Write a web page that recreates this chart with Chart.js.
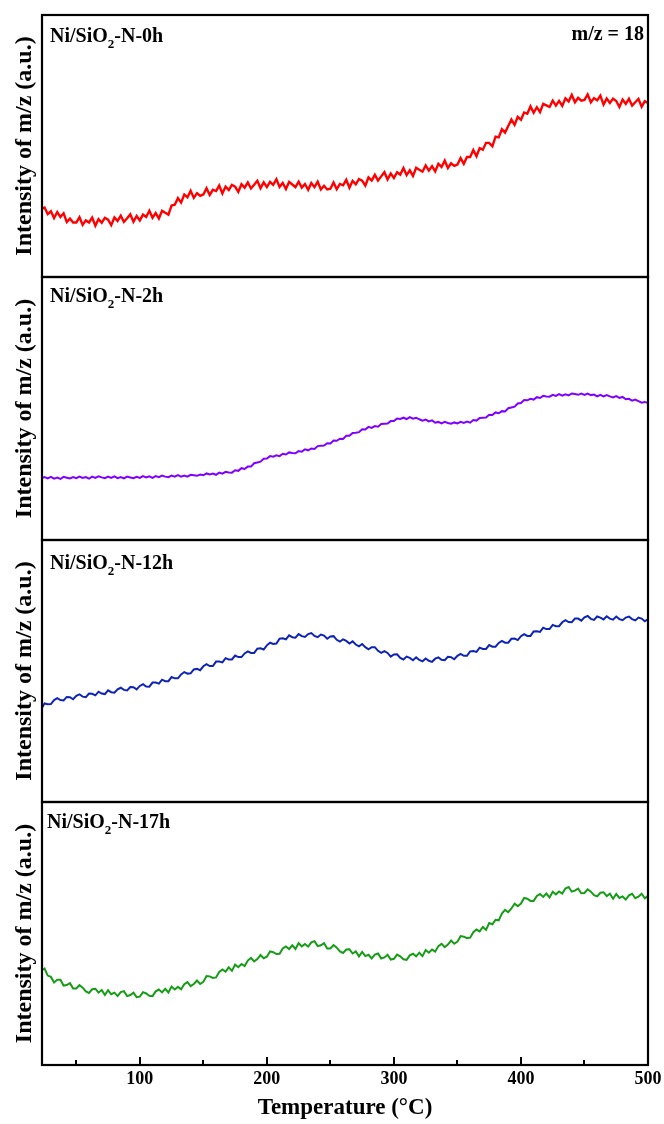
<!DOCTYPE html>
<html>
<head>
<meta charset="utf-8">
<script src="https://cdn.jsdelivr.net/npm/chart.js@4.4.1/dist/chart.umd.min.js"></script>
<style>
  html, body { margin: 0; padding: 0; background: #fff; }
  #wrap { position: relative; width: 664px; height: 1124px; overflow: hidden; background: #fff; }
  #wrap canvas { position: absolute; left: 0; }
</style>
</head>
<body>
<div id="wrap"></div>
<script>
// Temperature (°C) of each recorded sample
const temperatures = [23,
  25,27.5,30,32.5,35,37.5,40,42.5,45,47.5,
  50,52.5,55,57.5,60,62.5,65,67.5,70,72.5,
  75,77.5,80,82.5,85,87.5,90,92.5,95,97.5,
  100,102.5,105,107.5,110,112.5,115,117.5,120,122.5,
  125,127.5,130,132.5,135,137.5,140,142.5,145,147.5,
  150,152.5,155,157.5,160,162.5,165,167.5,170,172.5,
  175,177.5,180,182.5,185,187.5,190,192.5,195,197.5,
  200,202.5,205,207.5,210,212.5,215,217.5,220,222.5,
  225,227.5,230,232.5,235,237.5,240,242.5,245,247.5,
  250,252.5,255,257.5,260,262.5,265,267.5,270,272.5,
  275,277.5,280,282.5,285,287.5,290,292.5,295,297.5,
  300,302.5,305,307.5,310,312.5,315,317.5,320,322.5,
  325,327.5,330,332.5,335,337.5,340,342.5,345,347.5,
  350,352.5,355,357.5,360,362.5,365,367.5,370,372.5,
  375,377.5,380,382.5,385,387.5,390,392.5,395,397.5,
  400,402.5,405,407.5,410,412.5,415,417.5,420,422.5,
  425,427.5,430,432.5,435,437.5,440,442.5,445,447.5,
  450,452.5,455,457.5,460,462.5,465,467.5,470,472.5,
  475,477.5,480,482.5,485,487.5,490,492.5,495,497.5,
  500];

// m/z = 18 signal (a.u.) for each nitridation time
const intensity0h = [26.1,
  26.5,24.0,25.1,22.5,24.8,22.9,24.3,21.0,22.3,20.8,
  20.8,22.8,19.9,21.6,20.8,22.7,19.6,22.1,20.7,22.6,
  21.9,19.8,22.7,21.4,23.4,21.0,22.4,23.9,21.1,23.3,
  21.6,23.8,22.9,25.3,22.6,24.4,22.3,25.3,24.5,23.8,
  27.3,27.6,30.1,28.4,31.5,30.4,32.9,30.2,32.0,31.0,
  31.5,33.9,31.3,33.3,32.8,34.9,31.9,34.5,33.2,35.2,
  34.5,32.5,35.4,34.1,36.1,33.8,35.2,36.7,33.9,36.1,
  34.3,36.3,35.2,37.3,34.4,35.9,33.6,36.3,35.3,34.3,
  36.4,34.1,35.5,33.3,35.9,34.3,36.4,33.4,34.8,33.4,
  33.7,36.1,33.5,35.5,35.0,37.1,34.1,36.7,35.4,37.4,
  36.8,34.9,38.0,36.8,39.0,36.8,38.4,40.0,37.2,39.5,
  37.8,40.0,39.1,41.6,38.9,40.7,38.6,41.7,40.9,40.2,
  42.6,40.6,42.3,40.3,43.2,42.0,44.4,41.6,43.4,42.4,
  42.9,45.4,43.2,45.8,45.8,48.5,46.1,49.2,48.6,51.2,
  51.2,49.9,53.6,53.3,56.4,55.1,57.6,60.1,58.1,61.1,
  60.0,62.8,62.3,65.1,62.7,64.8,62.9,66.1,65.5,64.9,
  67.3,65.4,67.2,65.3,68.2,67.0,69.5,66.7,68.4,67.3,
  67.6,69.7,66.7,68.3,67.4,69.2,65.8,68.1,66.4,68.1,
  67.2,64.9,67.7,66.1,68.0,65.4,66.7,68.0,65.0,67.1,
  66.4];

const intensity2h = [23.6,
  23.9,23.4,24.0,23.3,23.7,23.2,24.0,23.7,23.4,23.9,
  23.5,24.1,23.6,23.9,23.3,24.1,23.6,24.2,23.8,23.5,
  24.1,23.6,24.2,23.5,23.9,23.4,24.1,23.8,23.5,24.0,
  23.6,24.3,23.8,24.2,23.6,24.3,23.9,24.5,24.1,23.9,
  24.5,24.1,24.7,24.1,24.5,24.1,24.8,24.6,24.4,24.9,
  24.6,25.3,24.9,25.3,24.8,25.6,25.2,25.9,25.7,25.6,
  26.5,26.3,27.3,27.0,27.9,27.9,29.2,29.5,29.8,30.9,
  31.0,31.9,31.7,32.2,31.9,32.8,32.5,33.3,33.1,33.0,
  33.8,33.6,34.5,34.1,34.8,34.6,35.7,35.8,35.9,36.8,
  36.7,37.8,37.7,38.5,38.4,39.6,39.6,40.7,40.8,41.0,
  42.1,42.0,43.0,42.6,43.3,43.1,44.1,44.2,44.3,45.2,
  45.2,46.2,46.0,46.5,46.0,46.7,46.1,46.5,45.9,45.4,
  45.8,45.1,45.5,44.6,44.9,44.3,44.9,44.5,44.2,44.7,
  44.3,44.9,44.5,45.0,44.6,45.6,45.4,46.4,46.5,46.6,
  47.6,47.5,48.5,48.2,49.0,48.9,50.1,50.4,50.7,51.9,
  52.1,53.2,53.1,53.7,53.4,54.3,54.0,54.8,54.6,54.5,
  55.2,54.8,55.5,54.9,55.4,55.0,55.7,55.5,55.2,55.7,
  55.2,55.7,55.1,55.3,54.6,55.2,54.6,55.1,54.6,54.2,
  54.7,54.0,54.4,53.5,53.7,53.0,53.4,52.8,52.2,52.5,
  52.1];

const intensity12h = [36.0,
  37.6,37.3,37.4,38.9,39.6,38.9,38.8,40.1,40.0,39.2,
  40.5,41.1,40.2,40.0,41.4,41.3,40.7,42.1,41.4,41.2,
  42.6,41.9,41.7,43.0,43.6,42.8,42.6,43.9,43.8,43.0,
  44.3,45.0,44.1,44.0,45.6,45.6,45.2,46.7,46.1,46.1,
  47.7,47.2,47.2,48.7,49.6,49.0,49.1,50.6,50.8,50.3,
  51.8,52.6,51.9,51.9,53.6,53.6,53.3,54.9,54.4,54.4,
  55.9,55.3,55.3,56.7,57.5,56.9,56.9,58.5,58.7,58.2,
  59.8,60.8,60.3,60.5,62.3,62.5,62.1,63.6,62.9,62.7,
  64.1,63.3,63.0,64.1,64.5,63.4,62.9,63.9,63.5,62.3,
  63.2,63.3,61.9,61.2,62.1,61.5,60.5,61.3,60.1,59.4,
  60.3,59.1,58.3,59.1,59.1,57.7,56.9,57.6,56.9,55.5,
  56.3,56.4,55.0,54.4,55.5,55.0,54.1,55.2,54.2,53.7,
  54.8,53.9,53.5,54.7,55.2,54.3,54.1,55.4,55.3,54.5,
  55.8,56.5,55.8,55.8,57.5,57.6,57.3,58.9,58.4,58.4,
  59.9,59.3,59.3,60.7,61.5,60.8,60.8,62.3,62.4,61.8,
  63.3,64.1,63.4,63.4,65.1,65.2,64.9,66.5,66.0,66.0,
  67.6,67.1,67.1,68.6,69.4,68.7,68.6,70.0,70.0,69.2,
  70.5,71.0,69.9,69.5,70.8,70.4,69.7,70.9,70.0,69.6,
  70.8,69.8,69.4,70.4,70.8,69.8,69.3,70.4,70.0,69.0,
  69.8];

const intensity17h = [36.1,
  36.7,34.0,33.5,31.4,32.4,32.4,30.2,30.4,31.1,29.1,
  29.1,30.4,29.4,28.0,27.4,28.8,29.0,27.5,28.5,26.6,
  28.4,26.9,27.5,26.2,27.7,28.1,26.2,26.6,27.5,25.8,
  26.0,27.7,27.2,26.3,26.2,28.0,28.7,27.6,29.0,27.6,
  29.8,28.7,29.7,28.8,30.7,31.5,30.0,30.8,32.1,30.8,
  31.6,33.8,33.7,33.1,33.3,35.4,36.3,35.5,37.1,35.8,
  38.2,37.2,38.4,37.6,39.7,40.7,39.4,40.3,41.8,40.6,
  41.2,43.2,42.9,42.2,42.3,44.3,45.1,44.1,45.5,44.1,
  46.3,45.1,46.0,45.0,46.6,47.1,45.2,45.5,46.3,44.3,
  44.3,45.6,44.6,43.2,42.6,43.9,44.0,42.4,43.2,41.3,
  43.0,41.4,41.9,40.5,42.0,42.4,40.5,40.9,41.9,40.1,
  40.4,42.0,41.3,40.2,40.0,41.7,42.3,41.3,42.7,41.4,
  43.7,42.7,43.9,43.1,45.2,46.1,44.8,45.8,47.3,46.1,
  46.9,49.0,48.8,48.2,48.4,50.5,51.5,50.8,52.5,51.4,
  54.0,53.5,55.2,55.0,57.6,59.0,58.1,59.5,61.3,60.4,
  61.4,63.5,63.2,62.4,62.4,64.3,65.0,63.9,65.2,63.7,
  65.9,64.9,66.0,65.2,67.1,67.7,65.9,66.3,67.1,65.3,
  65.4,66.8,65.9,64.6,64.1,65.5,65.7,64.2,65.1,63.2,
  65.0,63.5,64.1,62.9,64.5,65.1,63.4,64.0,65.1,63.4,
  64.3];

const sampleTimes = ['0h', '2h', '12h', '17h'];
const seriesColors = ['#ff0000', '#8000ff', '#0f24b4', '#169c16'];
const xTickValues = [100, 200, 300, 400, 500];
const xMinorTickValues = [50, 150, 250, 350, 450];

const SERIF = '"Liberation Serif", "Times New Roman", Times, serif';

// canvas placement of each stacked panel and where its sample label sits
const panelBoxes = [
  { top: 5,   height: 282, labelX: 50, labelY: 37 },
  { top: 267, height: 283, labelX: 50, labelY: 35 },
  { top: 530, height: 282, labelX: 50, labelY: 39 },
  { top: 792, height: 332, labelX: 47, labelY: 36 }
];

function drawSampleLabel(ctx, x, y, suffix) {
  ctx.save();
  ctx.fillStyle = '#000';
  ctx.textAlign = 'left';
  ctx.textBaseline = 'alphabetic';
  ctx.font = 'bold 20px ' + SERIF;
  const head = 'Ni/SiO';
  ctx.fillText(head, x, y);
  let w = ctx.measureText(head).width;
  ctx.font = 'bold 13px ' + SERIF;
  ctx.fillText('2', x + w, y + 6);
  w += ctx.measureText('2').width;
  ctx.font = 'bold 20px ' + SERIF;
  ctx.fillText('-N-' + suffix, x + w, y);
  ctx.restore();
}

function makePanel(idx, values) {
  const box = panelBoxes[idx];
  const isBottom = idx === panelBoxes.length - 1;
  const canvas = document.createElement('canvas');
  canvas.width = 664;
  canvas.height = box.height;
  canvas.style.top = box.top + 'px';
  canvas.style.width = '664px';
  canvas.style.height = box.height + 'px';
  document.getElementById('wrap').appendChild(canvas);

  const panelDecor = {
    id: 'panelDecor',
    afterDraw(chart) {
      const { ctx, chartArea: a, scales } = chart;
      ctx.save();
      // frame
      ctx.strokeStyle = '#000';
      ctx.lineWidth = 2.2;
      ctx.strokeRect(a.left, a.top, a.right - a.left, a.bottom - a.top);
      // inward tick marks on the temperature axis
      if (isBottom) {
        ctx.lineWidth = 2;
        ctx.beginPath();
        xTickValues.forEach(v => {
          const x = Math.round(scales.x.getPixelForValue(v));
          ctx.moveTo(x, a.bottom);
          ctx.lineTo(x, a.bottom - 8);
        });
        xMinorTickValues.forEach(v => {
          const x = Math.round(scales.x.getPixelForValue(v));
          ctx.moveTo(x, a.bottom);
          ctx.lineTo(x, a.bottom - 5);
        });
        ctx.stroke();
      }
      ctx.restore();
      drawSampleLabel(ctx, box.labelX, box.labelY, sampleTimes[idx]);
      if (idx === 0) {
        ctx.save();
        ctx.fillStyle = '#000';
        ctx.font = 'bold 20px ' + SERIF;
        ctx.textAlign = 'right';
        ctx.textBaseline = 'alphabetic';
        ctx.fillText('m/z = 18', 644, 35);
        ctx.restore();
      }
    }
  };

  return new Chart(canvas, {
    type: 'line',
    data: {
      datasets: [{
        data: temperatures.map((t, i) => ({ x: t, y: values[i] })),
        borderColor: seriesColors[idx],
        borderWidth: idx === 0 ? 2.4 : 2,
        pointRadius: 0,
        tension: 0,
        fill: false
      }]
    },
    options: {
      responsive: false,
      animation: false,
      devicePixelRatio: 1,
      layout: { padding: { top: 10, bottom: isBottom ? 0 : 10, left: 0, right: 16 } },
      plugins: { legend: { display: false }, tooltip: { enabled: false } },
      scales: {
        x: {
          type: 'linear',
          min: 23,
          max: 500,
          display: isBottom,
          grid: { display: false, drawTicks: false },
          border: { display: false },
          ticks: {
            color: '#000',
            font: { family: SERIF, size: 18, weight: 'bold' },
            padding: 4,
            maxRotation: 0,
            autoSkip: false
          },
          afterBuildTicks: s => { s.ticks = xTickValues.map(v => ({ value: v })); },
          afterFit: s => {
            if (isBottom) { s.height = 59; }
            s.paddingLeft = 0;
            s.paddingRight = 0;
          },
          title: {
            display: true,
            text: 'Temperature (°C)',
            color: '#000',
            font: { family: SERIF, size: 23, weight: 'bold' },
            padding: { top: 0, bottom: 2 }
          }
        },
        y: {
          min: 0,
          max: 100,
          grid: { display: false, drawTicks: false },
          border: { display: false },
          ticks: { display: false },
          afterFit: s => { s.width = 42; s.paddingTop = 0; s.paddingBottom = 0; },
          title: {
            display: true,
            text: 'Intensity of m/z (a.u.)',
            color: '#000',
            font: { family: SERIF, size: 24, weight: 'bold' },
            padding: { top: 10, bottom: 0 }
          }
        }
      }
    },
    plugins: [panelDecor]
  });
}

[intensity0h, intensity2h, intensity12h, intensity17h].forEach((vals, i) => makePanel(i, vals));
</script>
</body>
</html>
